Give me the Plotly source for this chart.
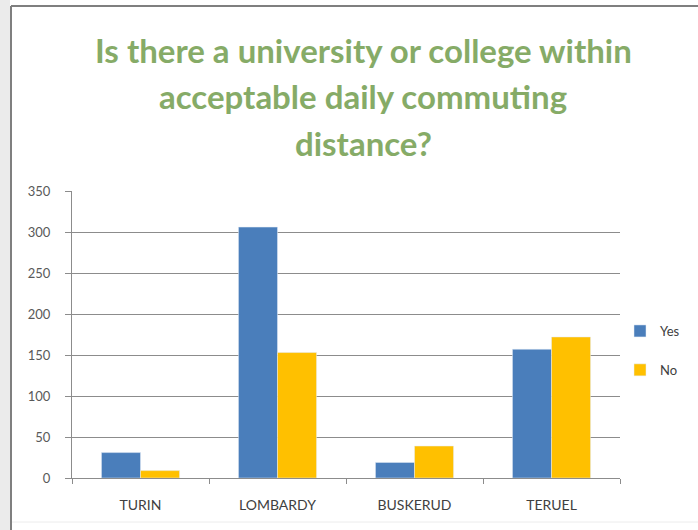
import plotly.graph_objects as go

# Survey answers per region
regions = ["TURIN", "LOMBARDY", "BUSKERUD", "TERUEL"]
yes_counts = [31, 306, 19, 157]
no_counts = [9, 153, 39, 172]
y_ticks = [0, 50, 100, 150, 200, 250, 300, 350]

W, H = 698, 530
L, R, T, B = 72, 78, 191, 52
pw = W - L - R
ph = H - T - B


def px_x(p):
    return (p - L) / pw


def px_y(p):
    return (H - B - p) / ph


fig = go.Figure()
fig.add_trace(go.Bar(name="Yes", x=regions, y=yes_counts, marker_color="#4a7ebb",
                     legendgroup="a"))
fig.add_trace(go.Bar(name="No", x=regions, y=no_counts, marker_color="#ffc000",
                     legendgroup="b"))

font_family = "Lato, 'Open Sans', sans-serif"

fig.update_layout(
    width=W, height=H,
    margin=dict(l=L, r=R, t=T, b=B, autoexpand=False),
    paper_bgcolor="white",
    plot_bgcolor="white",
    barmode="group",
    bargap=0.43,
    bargroupgap=0,
    showlegend=True,
    legend=dict(
        x=px_x(620), y=px_y(316), xanchor="left", yanchor="top",
        font=dict(family=font_family, size=13, color="#404040"),
        tracegroupgap=19, itemwidth=30, bgcolor="rgba(0,0,0,0)",
    ),
    xaxis=dict(
        showline=True, linecolor="#8c8c8c", linewidth=1,
        ticks="outside", tickson="boundaries", ticklen=5, tickcolor="#8c8c8c",
        tickfont=dict(family=font_family, size=14, color="#404040"),
        ticklabelstandoff=14,
        showgrid=False,
    ),
    yaxis=dict(
        range=[0, 350], tickvals=y_ticks,
        showline=True, linecolor="#8c8c8c", linewidth=1,
        ticks="outside", ticklen=6, tickcolor="#8c8c8c",
        showgrid=True, gridcolor="#8c8c8c", gridwidth=1,
        tickfont=dict(family=font_family, size=13, color="#595959"),
        ticklabelstandoff=12,
        zeroline=False,
    ),
)

# Window-style frame around the chart
fig.add_shape(type="rect", xref="paper", yref="paper",
              x0=px_x(0), x1=px_x(10), y0=px_y(530), y1=px_y(0),
              fillcolor="#ebebeb", line_width=0, layer="below")
fig.add_shape(type="line", xref="paper", yref="paper",
              x0=px_x(11), x1=px_x(11), y0=px_y(530), y1=px_y(6),
              line=dict(color="#7f7f7f", width=2))
fig.add_shape(type="line", xref="paper", yref="paper",
              x0=px_x(11), x1=px_x(698), y0=px_y(6), y1=px_y(6),
              line=dict(color="#7f7f7f", width=2))
fig.add_shape(type="line", xref="paper", yref="paper",
              x0=px_x(12), x1=px_x(698), y0=px_y(522), y1=px_y(522),
              line=dict(color="#ececec", width=1))

# Title
title_lines = ["Is there a university or college within",
               "acceptable daily commuting",
               "distance?"]
for i, line in enumerate(title_lines):
    fig.add_annotation(
        text=f"<b>{line}</b>", xref="paper", yref="paper",
        x=px_x(363), y=px_y(50 + 46.5 * i), xanchor="center", yanchor="middle",
        showarrow=False,
        font=dict(family=font_family, size=33, color="#86ab67"),
    )

fig.write_html("out.html")
